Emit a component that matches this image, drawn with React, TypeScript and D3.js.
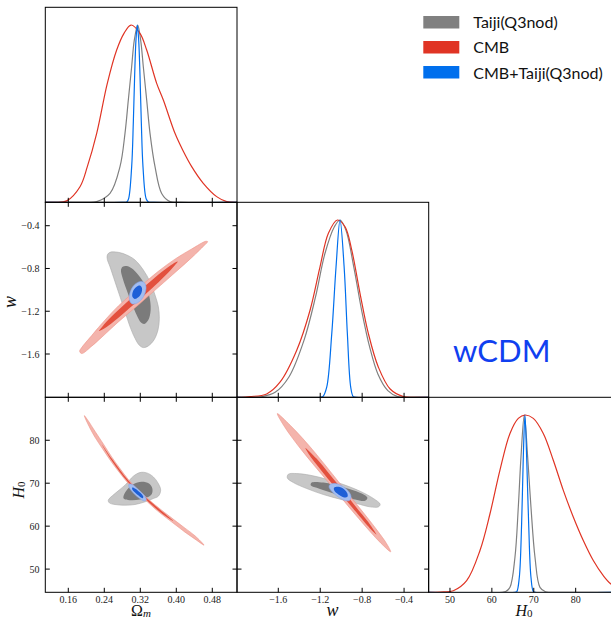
import React from 'react';
import * as d3 from 'd3';

// ---------- axes ----------
const omegaTicks = [0.16, 0.24, 0.32, 0.4, 0.48];
const wTicks = [-1.6, -1.2, -0.8, -0.4];
const h0Ticks = [50, 60, 70, 80];

const omegaRange = [0.1089, 0.5349];
const wRangeX = [-1.994, -0.165];
const wRangeY = [-2.005, -0.181];
const h0RangeX = [44.9, 90.65];
const h0RangeY = [44.6, 90.0];

const seriesNames = ['Taiji(Q3nod)', 'CMB', 'CMB+Taiji(Q3nod)'];
const seriesColors = ['#808080', '#e03424', '#006fed'];
const modelLabel = 'wCDM';

// ---------- 1D marginals [value, density] ----------
const omGray1D = [[0.109, 0], [0.2, 0], [0.2231, 0.004], [0.2527, 0.05], [0.2749, 0.201], [0.286, 0.389], [0.2934, 0.577], [0.3008, 0.765], [0.3067, 0.915], [0.3142, 1], [0.3208, 0.915], [0.3267, 0.765], [0.3342, 0.577], [0.3416, 0.389], [0.3527, 0.201], [0.3675, 0.05], [0.386, 0.004], [0.41, 0], [0.535, 0]];
const omRed1D = [[0.109, 0], [0.13, 0], [0.1564, 0.008], [0.186, 0.088], [0.2023, 0.201], [0.2231, 0.389], [0.2467, 0.671], [0.2675, 0.859], [0.2838, 0.953], [0.2993, 1], [0.3193, 0.953], [0.3342, 0.859], [0.3564, 0.671], [0.3712, 0.577], [0.3971, 0.389], [0.4142, 0.295], [0.4342, 0.201], [0.46, 0.107], [0.4897, 0.032], [0.512, 0.004], [0.535, 0]];
const omBlue1D = [[0.109, 0], [0.28, 0], [0.29, 0.002], [0.294, 0.02], [0.3008, 0.2], [0.3045, 0.45], [0.3075, 0.72], [0.3105, 0.92], [0.3134, 1], [0.3163, 0.92], [0.3193, 0.72], [0.3223, 0.45], [0.326, 0.2], [0.333, 0.02], [0.338, 0.002], [0.35, 0], [0.535, 0]];

const wGray1D = [[-2.0, 0], [-1.85, 0], [-1.76, 0.003], [-1.63, 0.028], [-1.5, 0.113], [-1.355, 0.321], [-1.245, 0.566], [-1.155, 0.811], [-1.065, 0.962], [-1.011, 1], [-0.955, 0.943], [-0.88, 0.736], [-0.805, 0.491], [-0.728, 0.283], [-0.65, 0.132], [-0.555, 0.038], [-0.46, 0.004], [-0.38, 0], [-0.165, 0]];
const wRed1D = [[-2.0, 0], [-1.95, 0], [-1.87, 0.004], [-1.711, 0.019], [-1.584, 0.085], [-1.425, 0.264], [-1.297, 0.491], [-1.202, 0.736], [-1.122, 0.925], [-1.036, 1], [-0.963, 0.962], [-0.899, 0.83], [-0.82, 0.585], [-0.74, 0.358], [-0.645, 0.17], [-0.533, 0.047], [-0.406, 0.004], [-0.3, 0], [-0.165, 0]];
const wBlue1D = [[-2.0, 0], [-1.2, 0], [-1.175, 0.004], [-1.138, 0.057], [-1.09, 0.358], [-1.049, 0.736], [-1.011, 1], [-0.972, 0.736], [-0.941, 0.358], [-0.909, 0.057], [-0.885, 0.004], [-0.86, 0], [-0.165, 0]];

const h0Gray1D = [[44.9, 0], [62.5, 0], [63.3, 0.004], [64.32, 0.028], [65.51, 0.198], [66.31, 0.481], [66.95, 0.764], [67.74, 1], [68.54, 0.764], [69.33, 0.481], [70.29, 0.198], [71.48, 0.028], [72.8, 0.003], [74, 0], [91, 0]];
const h0Red1D = [[44.9, 0], [46.5, 0], [48.5, 0.002], [50.8, 0.009], [53.98, 0.066], [57.16, 0.236], [59.55, 0.443], [61.93, 0.689], [64.32, 0.896], [66.31, 0.981], [67.9, 1], [69.89, 0.981], [72.27, 0.896], [74.66, 0.745], [77.05, 0.575], [79.43, 0.425], [81.82, 0.292], [84.21, 0.179], [86.59, 0.094], [88.42, 0.047], [91, 0.015]];
const h0Blue1D = [[44.9, 0], [65.5, 0], [65.95, 0.004], [66.55, 0.085], [67.1, 0.387], [67.5, 0.764], [67.9, 1], [68.3, 0.764], [68.78, 0.387], [69.33, 0.085], [69.9, 0.004], [70.4, 0], [91, 0]];

// ---------- 2D contours (Omega_m, w) ----------
const omWGray2 = [[0.24674, -0.67383], [0.25266, -0.64891], [0.27118, -0.64891], [0.2897, -0.67383], [0.30822, -0.72056], [0.32674, -0.81402], [0.34155, -0.92305], [0.35266, -1.04766], [0.36007, -1.15669], [0.36229, -1.26573], [0.35933, -1.37476], [0.35044, -1.46822], [0.33785, -1.5243], [0.32674, -1.53987], [0.31785, -1.51807], [0.30822, -1.45264], [0.29711, -1.34361], [0.286, -1.20342], [0.27489, -1.06324], [0.26378, -0.92305], [0.25266, -0.78286], [0.24674, -0.71433]];
const omWGray1 = [[0.28081, -0.78286], [0.2897, -0.77664], [0.30081, -0.79844], [0.31563, -0.86074], [0.33044, -0.9542], [0.34007, -1.06324], [0.34303, -1.18785], [0.33785, -1.28131], [0.32896, -1.31869], [0.32155, -1.30623], [0.31192, -1.23458], [0.30081, -1.12555], [0.2897, -1.00093], [0.28081, -0.8919], [0.27711, -0.81402]];
const omWRed2 = [[0.18526, -1.5741], [0.1897, -1.5399], [0.21193, -1.4277], [0.23267, -1.3249], [0.27119, -1.1505], [0.31563, -0.9853], [0.36007, -0.8265], [0.39859, -0.7081], [0.43415, -0.6178], [0.46526, -0.5461], [0.4697, -0.5492], [0.46526, -0.571], [0.43415, -0.6988], [0.39859, -0.8327], [0.36007, -0.976], [0.31563, -1.1411], [0.27119, -1.3], [0.23267, -1.4495], [0.21193, -1.5274], [0.1897, -1.5959]];
const omWRed1 = [[0.22822, -1.3841], [0.23267, -1.3592], [0.24896, -1.28], [0.27859, -1.1604], [0.31563, -1.0196], [0.35267, -0.885], [0.3823, -0.7872], [0.39859, -0.7424], [0.40304, -0.7361], [0.39859, -0.7611], [0.3823, -0.8371], [0.35267, -0.9598], [0.31563, -1.1006], [0.27859, -1.2352], [0.24896, -1.3361], [0.23267, -1.3779]];
const omWBlue2 = [[0.29711, -1.10996], [0.29563, -1.06324], [0.29933, -1.0009], [0.30822, -0.94797], [0.31933, -0.92305], [0.32896, -0.9324], [0.33267, -0.96978], [0.33044, -1.03208], [0.32304, -1.08816], [0.31193, -1.12554], [0.3023, -1.13177]];
const omWBlue1 = [[0.3023, -1.06324], [0.30452, -1.00716], [0.31193, -0.96978], [0.32007, -0.96043], [0.32378, -0.98536], [0.3223, -1.03208], [0.31563, -1.06947], [0.30748, -1.08505]];

// ---------- 2D contours (Omega_m, H0) ----------
const omHGray2 = [[0.24896, 66.047], [0.26378, 67.597], [0.286, 69.535], [0.30452, 71.628], [0.31933, 72.481], [0.33415, 72.403], [0.34896, 71.473], [0.36007, 69.923], [0.36526, 68.372], [0.36007, 66.977], [0.34896, 66.434], [0.33044, 65.659], [0.30822, 65.039], [0.286, 64.884], [0.26378, 65.039], [0.25119, 65.426]];
const omHGray1 = [[0.2823, 66.667], [0.2897, 68.372], [0.30452, 69.768], [0.32304, 70.31], [0.33933, 69.923], [0.34674, 68.76], [0.34526, 67.442], [0.33415, 66.667], [0.31933, 66.202], [0.30082, 66.047], [0.286, 66.202]];
const omHRed2 = [[0.19563, 85.737], [0.20452, 84.496], [0.21933, 82.093], [0.23785, 79.147], [0.25637, 76.124], [0.27489, 73.411], [0.29341, 70.853], [0.31193, 68.76], [0.33044, 66.977], [0.35267, 64.961], [0.37489, 63.101], [0.39711, 61.318], [0.41933, 59.535], [0.44156, 57.752], [0.46156, 55.581], [0.44156, 56.977], [0.41933, 58.605], [0.39711, 60.388], [0.37489, 62.171], [0.35267, 64.031], [0.33044, 66.202], [0.31193, 67.985], [0.29341, 69.923], [0.27489, 72.326], [0.25637, 74.884], [0.23785, 77.752], [0.21933, 80.698], [0.20452, 83.566]];
const omHRed1 = [[0.23415, 79.07], [0.25637, 75.737], [0.27489, 73.101], [0.29341, 70.62], [0.31193, 68.605], [0.33044, 66.822], [0.35267, 64.806], [0.37489, 62.868], [0.39341, 61.163], [0.37489, 62.403], [0.35267, 64.264], [0.33044, 66.357], [0.31193, 68.14], [0.29341, 70.155], [0.27489, 72.558], [0.25637, 75.272]];
const omHBlue2 = [[0.29489, 69.768], [0.30082, 69.768], [0.31563, 68.527], [0.32896, 67.132], [0.33341, 66.202], [0.32896, 65.892], [0.31563, 66.667], [0.3023, 67.985], [0.29489, 69.147]];
const omHBlue1 = [[0.3023, 68.992], [0.30822, 68.76], [0.32007, 67.752], [0.32674, 66.822], [0.32526, 66.512], [0.31785, 66.977], [0.30822, 67.83], [0.3023, 68.527]];

// ---------- 2D contours (w, H0) ----------
const wHGray2 = [[-1.50417, 72.093], [-1.42457, 72.248], [-1.29723, 71.86], [-1.13804, 70.93], [-0.97886, 69.69], [-0.81967, 68.14], [-0.69232, 66.434], [-0.62865, 65.116], [-0.64457, 64.496], [-0.72416, 64.496], [-0.85151, 65.271], [-1.01069, 66.279], [-1.16988, 67.364], [-1.32906, 68.76], [-1.45641, 70.155], [-1.51372, 71.24]];
const wHGray1 = [[-1.28131, 70.155], [-1.16988, 70.155], [-1.04253, 69.535], [-0.91518, 68.605], [-0.80375, 67.597], [-0.74963, 66.589], [-0.77192, 65.891], [-0.86743, 66.202], [-0.99478, 66.977], [-1.12212, 67.984], [-1.23355, 68.915], [-1.29086, 69.535]];
const wHRed2 = [[-1.60923, 86.2015], [-1.48634, 83.4884], [-1.36599, 80.3876], [-1.25552, 77.2868], [-1.15141, 74.186], [-1.05017, 71.0853], [-0.94925, 67.9845], [-0.84514, 64.8837], [-0.7439, 61.7829], [-0.64616, 58.6822], [-0.56752, 55.969], [-0.52804, 54.031], [-0.61846, 55.969], [-0.72257, 58.6822], [-0.83304, 61.7829], [-0.94065, 64.8837], [-1.04476, 67.9845], [-1.15205, 71.0853], [-1.25966, 74.186], [-1.36377, 77.2868], [-1.4615, 80.3876], [-1.55001, 83.4884]];
const wHRed1 = [[-1.3418, 78.2171], [-1.23514, 75.7364], [-1.12785, 72.6357], [-1.02375, 69.5349], [-0.9225, 66.4341], [-0.82158, 63.3333], [-0.72066, 60.2326], [-0.66367, 58.062], [-0.75249, 60.2326], [-0.85979, 63.3333], [-0.96708, 66.4341], [-1.07469, 69.5349], [-1.17879, 72.6357], [-1.27972, 75.7364]];
const wHBlue2 = [[-1.10621, 69.69], [-1.05845, 69.922], [-0.99477, 69.38], [-0.9311, 68.14], [-0.90563, 66.822], [-0.92155, 65.969], [-0.97249, 66.046], [-1.04253, 67.054], [-1.09665, 68.295], [-1.11576, 69.147]];
const wHBlue1 = [[-1.068, 68.915], [-1.02661, 69.147], [-0.97249, 68.605], [-0.94065, 67.597], [-0.94065, 66.822], [-0.97886, 66.744], [-1.02661, 67.364], [-1.06482, 68.217]];

// ---------- styles ----------
const fill2 = ['#c7c7c7', '#f4b4ac', '#a3bdf0'];
const edge2 = ['#a9a9a9', '#ee958a', '#86a6ea'];
const fill1 = ['#7b7b7b', '#e3503e', '#1d5fd7'];

const L = [45.3, 237, 428.6];
const T = [7.3, 202.3, 397.3];
const PW = 191.7;
const PH = 195;
const TICK = 4.5;
const serif = "'Liberation Serif', 'DejaVu Serif', serif";
const sans = "Lato, 'Open Sans', 'DejaVu Sans', sans-serif";

export default function App() {
  const xOm = d3.scaleLinear().domain(omegaRange).range([L[0], L[0] + PW]);
  const xW = d3.scaleLinear().domain(wRangeX).range([L[1], L[1] + PW]);
  const xH = d3.scaleLinear().domain(h0RangeX).range([L[2], L[2] + PW]);
  const yW = d3.scaleLinear().domain(wRangeY).range([T[1] + PH, T[1]]);
  const yH = d3.scaleLinear().domain(h0RangeY).range([T[2] + PH, T[2]]);
  const dens = (r: number) => d3.scaleLinear().domain([0, 1.1]).range([T[r] + PH, T[r]]);

  const fmt2 = d3.format('.2f');
  const fmt1 = d3.format('.1f');
  const fmt0 = d3.format('d');

  const panels1D = [
    { id: 'd0', c: 0, r: 0, x: xOm, ticks: omegaTicks, curves: [omGray1D, omRed1D, omBlue1D] },
    { id: 'd1', c: 1, r: 1, x: xW, ticks: wTicks, curves: [wGray1D, wRed1D, wBlue1D] },
    { id: 'd2', c: 2, r: 2, x: xH, ticks: h0Ticks, curves: [h0Gray1D, h0Red1D, h0Blue1D] },
  ];
  const panels2D = [
    { id: 'p10', c: 0, r: 1, x: xOm, y: yW, xt: omegaTicks, yt: wTicks, sets: [[omWGray2, omWGray1], [omWRed2, omWRed1], [omWBlue2, omWBlue1]] },
    { id: 'p20', c: 0, r: 2, x: xOm, y: yH, xt: omegaTicks, yt: h0Ticks, sets: [[omHGray2, omHGray1], [omHRed2, omHRed1], [omHBlue2, omHBlue1]] },
    { id: 'p21', c: 1, r: 2, x: xW, y: yH, xt: wTicks, yt: h0Ticks, sets: [[wHGray2, wHGray1], [wHRed2, wHRed1], [wHBlue2, wHBlue1]] },
  ];

  const all = [...panels1D, ...panels2D];

  return (
    <svg width={611} height={619} style={{ position: 'absolute', left: 0, top: 0, background: '#fff' }}>
      <defs>
        {all.map((p) => (
          <clipPath id={'clip-' + p.id} key={p.id}>
            <rect x={L[p.c]} y={T[p.r]} width={PW} height={PH} />
          </clipPath>
        ))}
      </defs>
      <rect x={0} y={0} width={611} height={619} fill="#fff" />

      {panels1D.map((p) => {
        const ys = dens(p.r);
        const line = d3.line<number[]>().x((d) => p.x(d[0])).y((d) => ys(d[1])).curve(d3.curveCatmullRom.alpha(0.5));
        return (
          <g key={p.id} clipPath={`url(#clip-${p.id})`}>
            {p.curves.map((cv, i) => (
              <path key={i} d={line(cv) || ''} fill="none" stroke={seriesColors[i]} strokeWidth={1.2} />
            ))}
          </g>
        );
      })}

      {panels2D.map((p) => {
        const line = d3.line<number[]>().x((d) => p.x(d[0])).y((d) => p.y(d[1])).curve(d3.curveCatmullRomClosed.alpha(0.5));
        return (
          <g key={p.id} clipPath={`url(#clip-${p.id})`}>
            {p.sets.map((s, i) => (
              <g key={i}>
                <path d={line(s[0]) || ''} fill={fill2[i]} stroke={edge2[i]} strokeWidth={0.6} />
                <path d={line(s[1]) || ''} fill={fill1[i]} stroke="none" />
              </g>
            ))}
          </g>
        );
      })}

      {/* frames and ticks */}
      {all.map((p) => (
        <rect key={'f' + p.id} x={L[p.c]} y={T[p.r]} width={PW} height={PH} fill="none" stroke="#000" strokeWidth={1} />
      ))}
      {panels1D.map((p) =>
        p.ticks.map((t) => (
          <line key={p.id + 't' + t} x1={p.x(t)} x2={p.x(t)} y1={T[p.r] + PH} y2={T[p.r] + PH - TICK} stroke="#000" strokeWidth={1} />
        ))
      )}
      {panels2D.map((p) => (
        <g key={'tk' + p.id} stroke="#000" strokeWidth={1}>
          {p.xt.map((t) => (
            <g key={'x' + t}>
              <line x1={p.x(t)} x2={p.x(t)} y1={T[p.r] + PH} y2={T[p.r] + PH - TICK} />
              <line x1={p.x(t)} x2={p.x(t)} y1={T[p.r]} y2={T[p.r] + TICK} />
            </g>
          ))}
          {p.yt.map((t) => (
            <g key={'y' + t}>
              <line x1={L[p.c]} x2={L[p.c] + TICK} y1={p.y(t)} y2={p.y(t)} />
              <line x1={L[p.c] + PW} x2={L[p.c] + PW - TICK} y1={p.y(t)} y2={p.y(t)} />
            </g>
          ))}
        </g>
      ))}

      {/* tick labels */}
      <g fontFamily={serif} fontSize={10} fill="#222">
        {omegaTicks.map((t) => (
          <text key={'lo' + t} x={xOm(t)} y={603} textAnchor="middle">{fmt2(t)}</text>
        ))}
        {wTicks.map((t) => (
          <text key={'lw' + t} x={xW(t)} y={603} textAnchor="middle">{fmt1(t)}</text>
        ))}
        {h0Ticks.map((t) => (
          <text key={'lh' + t} x={xH(t)} y={603} textAnchor="middle">{fmt0(t)}</text>
        ))}
        {wTicks.map((t) => (
          <text key={'lyw' + t} x={39.5} y={yW(t) + 3.5} textAnchor="end">{fmt1(t)}</text>
        ))}
        {h0Ticks.map((t) => (
          <text key={'lyh' + t} x={39.5} y={yH(t) + 3.5} textAnchor="end">{fmt0(t)}</text>
        ))}
      </g>

      {/* axis labels */}
      <g fontFamily={serif} fill="#111">
        <text x={141} y={615.5} textAnchor="middle" fontSize={16}>
          Ω<tspan fontStyle="italic" fontSize={11} dy={1.5}>m</tspan>
        </text>
        <text x={332.5} y={615.5} textAnchor="middle" fontSize={18} fontStyle="italic">w</text>
        <text x={524} y={615.5} textAnchor="middle" fontSize={16}>
          <tspan fontStyle="italic">H</tspan>
          <tspan fontSize={11} dy={1.5}>0</tspan>
        </text>
        <text transform="translate(15.5,302) rotate(-90)" textAnchor="middle" fontSize={18} fontStyle="italic">w</text>
        <text transform="translate(23.5,490) rotate(-90)" textAnchor="middle" fontSize={16}>
          <tspan fontStyle="italic">H</tspan>
          <tspan fontSize={11} dy={1.5}>0</tspan>
        </text>
      </g>

      {/* legend */}
      <g fontFamily={sans} fontSize={16} fill="#111">
        {seriesNames.map((n, i) => (
          <g key={n}>
            <rect x={423.3} y={16 + i * 25} width={36} height={12.5} fill={seriesColors[i]} />
            <text x={473.3} y={28.3 + i * 25.1}>{n}</text>
          </g>
        ))}
      </g>

      <text x={453} y={361.7} fontFamily={sans} fontSize={31} fill="#1040f0">{modelLabel}</text>
    </svg>
  );
}
